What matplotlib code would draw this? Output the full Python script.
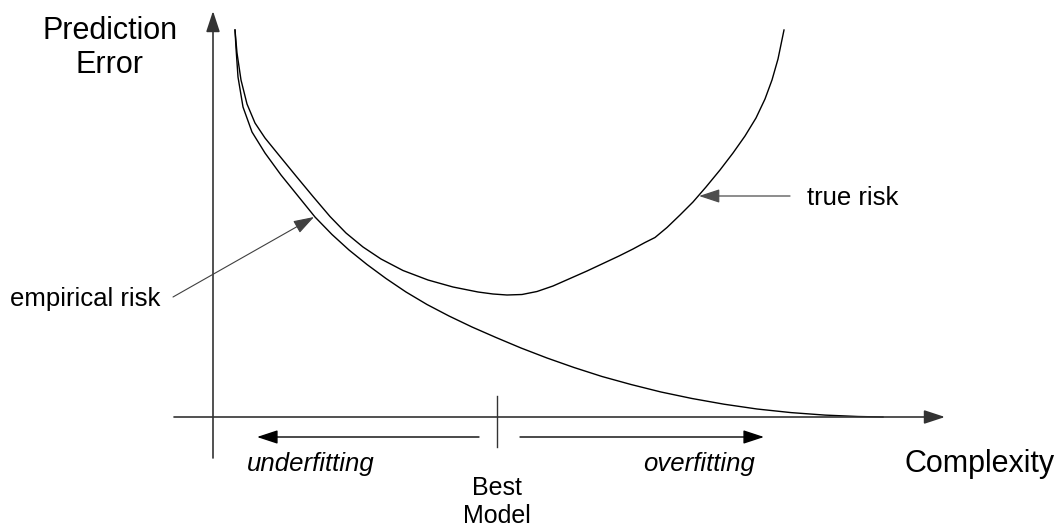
import matplotlib.pyplot as plt

plt.rcParams['font.family'] = ['Liberation Sans', 'DejaVu Sans']

# complexity (x) and prediction error (y)
emp_x = [22, 23, 25, 30, 39, 52, 68, 85, 102, 119, 136, 154, 173, 193, 214,
         236, 259, 283, 308, 334, 361, 389, 418, 448, 479, 511, 544, 578,
         612, 645, 670]
emp_y = [387, 369, 340, 310, 285, 264, 242, 221, 200, 182.5, 167, 152.5,
         138.5, 125, 112.5, 101, 90, 79.5, 69, 59, 49.5, 40.5, 32.5, 25,
         18.5, 12.8, 8.0, 4.4, 1.9, 0.5, 0]

true_x = [22, 24, 28, 34, 42, 52, 65, 83, 100, 117, 133, 150, 168, 190, 215,
          240, 265, 280, 294, 309, 324, 340, 357, 374, 390, 406, 420, 432,
          442, 454, 467, 480, 493, 507, 520, 532, 543, 552, 559, 565, 571]
true_y = [387, 364, 337, 313, 294, 279, 263, 241, 220.5, 200.5, 184, 170,
          158, 146.5, 137, 130, 125, 123, 122, 122.5, 125.5, 131, 138.5, 146,
          153.5, 161, 168, 174.5, 179.5, 189.5, 202, 215, 230, 247, 264, 281,
          299, 318, 337, 358, 387]

best_model = 284

fig = plt.figure(figsize=(10.6, 5.27), dpi=100)
ax = fig.add_axes([0, 0, 1, 1])
ax.set_xlim(-213, 847)
ax.set_ylim(-110, 417)
ax.axis('off')

ax.plot(emp_x, emp_y, color='black', lw=1.0)
ax.plot(true_x, true_y, color='black', lw=1.0)

head = '-|>,head_length=0.85,head_width=0.28'

def arrow(x0, y0, x1, y1, color='black', lw=1.0):
    ax.annotate('', xy=(x1, y1), xytext=(x0, y0),
                arrowprops=dict(arrowstyle=head, mutation_scale=15, color=color,
                                lw=lw, shrinkA=0, shrinkB=0))

# axes
arrow(0, -41, 0, 406, color='0.2', lw=1.2)
arrow(-39, 0, 732, 0, color='0.2', lw=1.2)

# best model tick and the two regimes
ax.plot([best_model, best_model], [21, -30], color='0.2', lw=1.0)
arrow(best_model - 18, -20, 44, -20)
arrow(best_model + 23, -20, 551, -20)

# labels pointing at the curves
arrow(-40, 120, 101, 200, color='0.25', lw=0.8)
arrow(577, 221, 486, 221, color='0.3', lw=0.9)

ax.text(-103, 401, 'Prediction\nError', ha='center', va='top', fontsize=22,
        linespacing=1.17)
ax.text(692, -55, 'Complexity', ha='left', va='baseline', fontsize=22)
ax.text(-203, 111, 'empirical risk', ha='left', va='baseline', fontsize=18.5)
ax.text(594, 212, 'true risk', ha='left', va='baseline', fontsize=18.5)
ax.text(34, -54, 'underfitting', ha='left', va='baseline', fontsize=18.5,
        style='italic')
ax.text(430, -54, 'overfitting', ha='left', va='baseline', fontsize=18.5,
        style='italic')
ax.text(best_model, -59, 'Best\nModel', ha='center', va='top', fontsize=18,
        linespacing=1.2)

fig.savefig('out.png', dpi=100)
